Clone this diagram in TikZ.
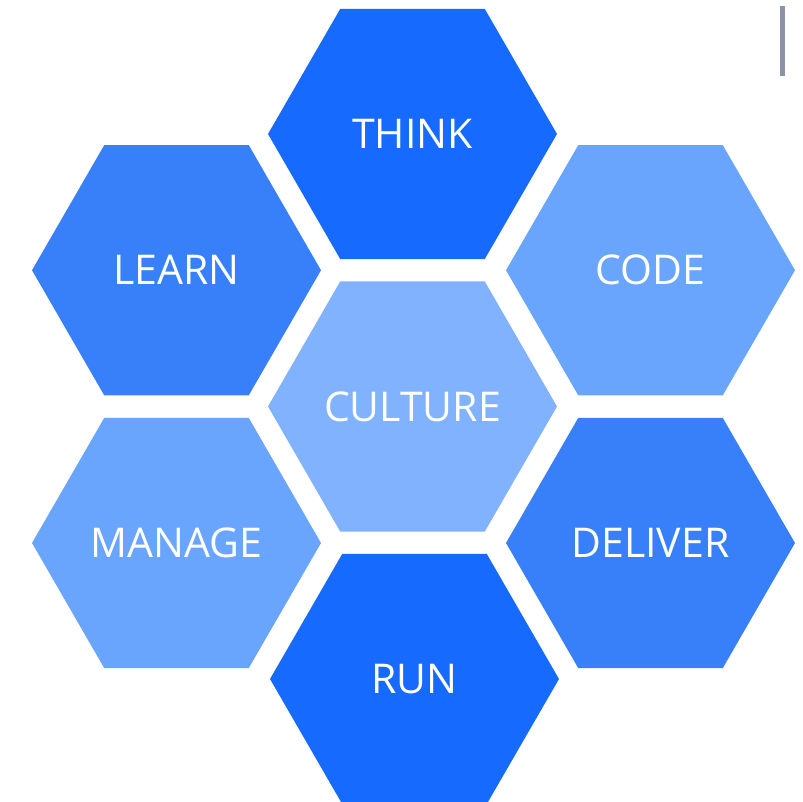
\documentclass[tikz,border=0pt]{standalone}
\usepackage{fontspec}
\setmainfont{Open Sans}
\usepackage{tikz}
\usetikzlibrary{shapes.geometric}

\definecolor{hexdark}{HTML}{166AFE}
\definecolor{hexmid}{HTML}{3880FA}
\definecolor{hexlight}{HTML}{69A5FD}
\definecolor{hexpale}{HTML}{80B2FD}
\definecolor{bargray}{HTML}{8A94A6}

\tikzstyle{hexa} = [regular polygon, regular polygon sides=6, minimum size=289pt, inner sep=0pt, text=white, font=\fontsize{41}{49}\selectfont]

\begin{document}
\begin{tikzpicture}[node distance=272.5pt]
\useasboundingbox (0,0) rectangle (803pt,802pt);

% Hexagons
\node (culture) [hexa, fill=hexpale] at (412.5pt,395.5pt) {CULTURE};
\node (think) [hexa, fill=hexdark, above of=culture] {THINK};
\node (run) [hexa, fill=hexdark, below of=culture, xshift=2pt] {RUN};
\node (learn) [hexa, fill=hexmid, left of=culture, xshift=36.5pt, yshift=136.25pt] {LEARN};
\node (code) [hexa, fill=hexlight, right of=culture, xshift=-34.5pt, yshift=136.25pt] {CODE};
\node (manage) [hexa, fill=hexlight, left of=culture, xshift=36.5pt, yshift=-136.5pt] {MANAGE};
\node (deliver) [hexa, fill=hexmid, right of=culture, xshift=-34.5pt, yshift=-136.5pt] {DELIVER};

% Bar at the top right
\fill [bargray] (780.3pt,726pt) rectangle (784.8pt,796pt);

\end{tikzpicture}
\end{document}
